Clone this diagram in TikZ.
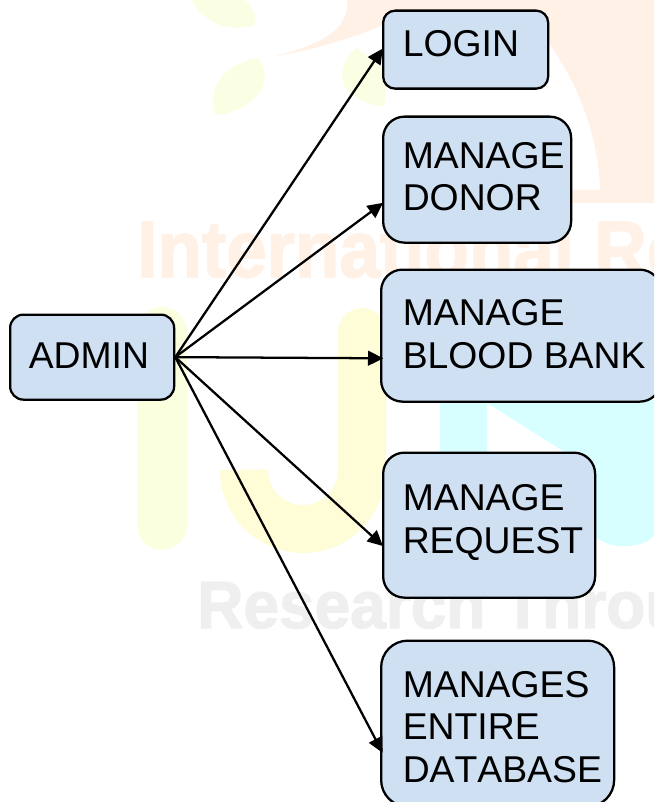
\documentclass[tikz,border=0pt]{standalone}
\usepackage{graphicx}
\usepackage{fontspec}
\setmainfont{Liberation Sans}[Kerning=Off]
\newfontface\wmface{Liberation Sans Bold}[FakeBold=2]
\usetikzlibrary{arrows.meta,calc}
\definecolor{boxfill}{HTML}{CEE0F2}
\definecolor{wmorange}{HTML}{FFF1E6}
\definecolor{wmyellow}{HTML}{FFFCD8}
\definecolor{wmpale}{HTML}{FAFFE0}
\definecolor{wmleaf}{HTML}{FAFEE2}
\definecolor{wmcyan}{HTML}{D8FFFF}
\definecolor{wmgrey}{HTML}{EFEFEF}
\tikzset{
  boxnode/.style={draw=black,line width=1.7pt,fill=boxfill,inner sep=0pt,anchor=north west},
  lbl/.style={anchor=base west,inner sep=0pt,align=left,font=\fontsize{28pt}{31.8pt}\selectfont},
  conn/.style={line width=1.7pt,-{Triangle[length=11.5pt,width=11pt]},shorten >=-1pt},
  wmtext/.style={anchor=base west,inner sep=0pt}
}
\begin{document}
\begin{tikzpicture}[x=0.75pt,y=-0.75pt]
\useasboundingbox (0,0) rectangle (654,802);
\clip (0,0) rectangle (654,802);
% watermark
\fill[wmorange] (272,57) .. controls (320,45) and (350,30) .. (347,0) -- (654,0) -- (654,203) -- (571,203) -- (571,190) -- (600,190) -- (600,187) .. controls (597,140) and (585,95) .. (547,40) .. controls (500,12) and (430,10) .. (383,25) .. controls (345,42) and (300,52) .. (272,57) -- cycle;
\fill[wmleaf] (192,0) .. controls (205,25) and (230,32) .. (255,25) .. controls (258,15) and (250,5) .. (245,0) -- cycle;
\fill[wmleaf] (258,58) .. controls (270,75) and (265,90) .. (250,102) .. controls (240,110) and (225,115) .. (215,115) .. controls (208,90) and (220,65) .. (258,58) -- cycle;
\fill[wmleaf] (357,48) .. controls (340,60) and (335,85) .. (355,96) .. controls (365,104) and (380,108) .. (385,105) -- (385,70) -- cycle;
\node[wmtext,text=wmorange] (wmintl) at (137,277) {\scalebox{0.91}[1]{\fontsize{60pt}{60pt}\wmface International Re}};
\node[wmtext,text=wmgrey] (wmres) at (197,628) {\scalebox{0.96}[1]{\fontsize{50pt}{50pt}\wmface Research Throu}};
\draw[wmpale,line width=37.5pt,line cap=round] (162,332) -- (162,525);
\draw[wmyellow,line width=36pt,line cap=round] (362,332) -- (362,470) arc (0:180:59) -- (244,472);
\fill[wmcyan] (440,400) -- (654,400) -- (654,535) .. controls (645,548) and (610,552) .. (593,535) -- (593,470) -- (487,403) -- (487,590) -- (440,590) -- cycle;
% boxes
\node[boxnode,rounded corners=9pt,minimum width=123.75pt,minimum height=58.5pt] (login) at (382,9.5) {};
\node[boxnode,rounded corners=16pt,minimum width=141pt,minimum height=94.5pt] (donor) at (382,115.5) {};
\node[boxnode,rounded corners=16pt,minimum width=210pt,minimum height=99pt] (blood) at (380,268.5) {};
\node[boxnode,rounded corners=16pt,minimum width=159pt,minimum height=108.75pt] (request) at (382,451.5) {};
\node[boxnode,rounded corners=20pt,minimum width=174.75pt,minimum height=124.5pt] (database) at (380,639.5) {};
\node[boxnode,rounded corners=10pt,minimum width=123pt,minimum height=63.75pt] (admin) at (9,313.5) {};
% labels
\node[lbl] (tlogin) at (402.5,57) {LOGIN};
\node[lbl] (tdonor) at (402.5,211) {MANAGE\\DONOR};
\node[lbl] (tblood) at (402.5,368) {MANAGE\\BLOOD BANK};
\node[lbl] (trequest) at (402.5,553) {MANAGE\\REQUEST};
\node[lbl] (tdatabase) at (402.5,782) {MANAGES\\ENTIRE\\DATABASE};
\node[lbl] (tadmin) at (28.5,368) {ADMIN};
% connectors
\draw[conn] (admin.east) -- (login.west);
\draw[conn] (admin.east) -- ([yshift=-18pt]donor.west);
\draw[conn] (admin.east) -- ([yshift=-17pt,xshift=1.5pt]blood.west);
\draw[conn] (admin.east) -- ([yshift=-15pt]request.west);
\draw[conn] (admin.east) -- ([yshift=-21pt,xshift=1.5pt]database.west);
\end{tikzpicture}
\end{document}
